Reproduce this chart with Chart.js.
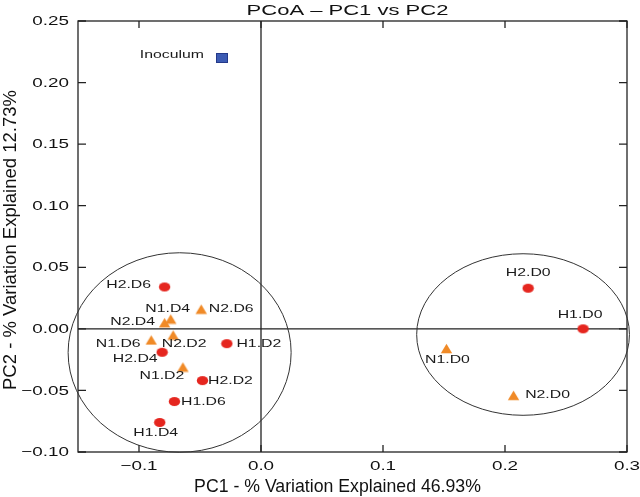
<!DOCTYPE html>
<html>
<head>
<meta charset="utf-8">
<script src="https://cdn.jsdelivr.net/npm/chart.js@4.4.0/dist/chart.umd.min.js"></script>
<style>
  html, body { margin: 0; padding: 0; background: #fff; }
  #wrap { width: 640px; height: 497px; }
</style>
</head>
<body>
<div id="wrap"><canvas id="pcoaChart"></canvas></div>
<script>
// --- data ---
const hLabels = ['H2.D6', 'H2.D4', 'H1.D2', 'H2.D2', 'H1.D6', 'H1.D4', 'H2.D0', 'H1.D0'];
const hPC1 = [-0.079, -0.081, -0.028, -0.048, -0.071, -0.083, 0.219, 0.264];
const hPC2 = [0.034, -0.019, -0.012, -0.042, -0.059, -0.076, 0.033, 0.000];

const nLabels = ['N2.D6', 'N1.D4', 'N2.D4', 'N2.D2', 'N1.D6', 'N1.D2', 'N1.D0', 'N2.D0'];
const nPC1 = [-0.049, -0.074, -0.079, -0.072, -0.090, -0.064, 0.152, 0.207];
const nPC2 = [0.016, 0.008, 0.005, -0.005, -0.009, -0.031, -0.016, -0.054];

const inocLabels = ['Inoculum'];
const inocPC1 = [-0.032];
const inocPC2 = [0.220];

const xTickValues = [-0.1, 0.0, 0.1, 0.2, 0.3];
const xTickLabels = ['\u22120.1', '0.0', '0.1', '0.2', '0.3'];
const yTickValues = [-0.10, -0.05, 0.00, 0.05, 0.10, 0.15, 0.20, 0.25];
const yTickLabels = ['\u22120.10', '\u22120.05', '0.00', '0.05', '0.10', '0.15', '0.20', '0.25'];

// label placement next to each marker (pixels)
const hLabelOffsets = [[-36, -2], [-27, 7], [32, 0], [28, 0], [29, 0], [-4, 10], [0, -15], [-3, -14]];
const nLabelOffsets = [[30, 0], [-3, -10], [-32, -1], [11, 9], [-33, 4], [-21, 9], [1, 11], [34, 0]];
const inocLabelOffsets = [[-50, -3]];

// cluster ellipses, in data units
const leftCluster = { cx: -0.0667, cy: -0.0192, rx: 0.0914, ry: 0.081 };
const rightCluster = { cx: 0.2148, cy: -0.0046, rx: 0.0872, ry: 0.0656 };

const FONT = '"Liberation Sans", Arial, Helvetica, sans-serif';

function makeMarker(w, h, draw) {
  const c = document.createElement('canvas');
  c.width = w;
  c.height = h;
  draw(c.getContext('2d'), w, h);
  return c;
}

const redDot = makeMarker(13, 11, (g) => {
  g.fillStyle = '#e5261f';
  g.beginPath();
  g.ellipse(6.5, 5.5, 5.7, 4.6, 0, 0, Math.PI * 2);
  g.fill();
});
const orangeTri = makeMarker(13, 11, (g) => {
  g.fillStyle = '#f08a27';
  g.beginPath();
  g.moveTo(6.5, 0.8);
  g.lineTo(12.2, 10.3);
  g.lineTo(0.8, 10.3);
  g.closePath();
  g.fill();
});
const blueSquare = makeMarker(12, 10, (g) => {
  g.fillStyle = '#3c5bb3';
  g.fillRect(0.5, 0.5, 11, 9);
  g.strokeStyle = '#24398a';
  g.lineWidth = 1;
  g.strokeRect(0.5, 0.5, 11, 9);
});

function toPoints(xs, ys) {
  return xs.map((x, i) => ({ x: x, y: ys[i] }));
}

// text drawn a little wider than tall, like the figure
function drawText(ctx, txt, x, y, o) {
  ctx.save();
  ctx.translate(x, y);
  if (o.rotate) ctx.rotate(o.rotate);
  ctx.scale(o.sx || 1, 1);
  ctx.font = o.font;
  ctx.fillStyle = o.color || '#111';
  ctx.textAlign = o.align || 'center';
  ctx.textBaseline = o.baseline || 'middle';
  ctx.fillText(txt, 0, 0);
  ctx.restore();
}

const framePlugin = {
  id: 'frame',
  beforeDatasetsDraw(chart) {
    const { ctx, chartArea: a, scales } = chart;
    const xs = scales.x, ys = scales.y;
    ctx.save();
    ctx.strokeStyle = '#222';
    ctx.lineWidth = 1.3;
    ctx.strokeRect(a.left, a.top, a.right - a.left, a.bottom - a.top);

    // zero lines
    ctx.beginPath();
    const x0 = xs.getPixelForValue(0), y0 = ys.getPixelForValue(0);
    ctx.moveTo(x0, a.top); ctx.lineTo(x0, a.bottom);
    ctx.moveTo(a.left, y0); ctx.lineTo(a.right, y0);
    ctx.stroke();

    // inward ticks on all four sides
    ctx.beginPath();
    xs.ticks.forEach(t => {
      const px = xs.getPixelForValue(t.value);
      ctx.moveTo(px, a.bottom); ctx.lineTo(px, a.bottom - 7);
      ctx.moveTo(px, a.top); ctx.lineTo(px, a.top + 7);
    });
    ys.ticks.forEach(t => {
      const py = ys.getPixelForValue(t.value);
      ctx.moveTo(a.left, py); ctx.lineTo(a.left + 8, py);
      ctx.moveTo(a.right, py); ctx.lineTo(a.right - 8, py);
    });
    ctx.stroke();

    // cluster ellipses
    ctx.strokeStyle = '#333';
    ctx.lineWidth = 1;
    [leftCluster, rightCluster].forEach(e => {
      const cx = xs.getPixelForValue(e.cx), cy = ys.getPixelForValue(e.cy);
      const rx = xs.getPixelForValue(e.cx + e.rx) - cx;
      const ry = cy - ys.getPixelForValue(e.cy + e.ry);
      ctx.beginPath();
      ctx.ellipse(cx, cy, rx, ry, 0, 0, Math.PI * 2);
      ctx.stroke();
    });
    ctx.restore();
  },
  afterDatasetsDraw(chart) {
    const { ctx, chartArea: a, scales } = chart;
    const xs = scales.x, ys = scales.y;

    // tick labels
    xs.ticks.forEach((t, i) => {
      drawText(ctx, xTickLabels[i], xs.getPixelForValue(t.value), 466,
        { font: '13px ' + FONT, sx: 1.45 });
    });
    ys.ticks.forEach((t, i) => {
      drawText(ctx, yTickLabels[i], 69, ys.getPixelForValue(t.value) + 0.5,
        { font: '13px ' + FONT, sx: 1.45, align: 'right' });
    });

    // marker labels
    const sets = [[hLabels, hLabelOffsets], [nLabels, nLabelOffsets], [inocLabels, inocLabelOffsets]];
    sets.forEach(([names, offs], di) => {
      const meta = chart.getDatasetMeta(di);
      meta.data.forEach((pt, i) => {
        drawText(ctx, names[i], pt.x + offs[i][0], pt.y + offs[i][1],
          { font: '11.3px ' + FONT, sx: 1.4, color: '#1a1a1a' });
      });
    });

    // titles
    drawText(ctx, 'PCoA \u2013 PC1 vs PC2', 347.5, 15,
      { font: '15.5px ' + FONT, sx: 1.42, baseline: 'alphabetic' });
    drawText(ctx, 'PC1 - % Variation Explained 46.93%', 337.5, 492,
      { font: '17.7px ' + FONT, baseline: 'alphabetic' });
    drawText(ctx, 'PC2 - % Variation Explained 12.73%', 16, 240,
      { font: '18.5px ' + FONT, baseline: 'alphabetic', rotate: -Math.PI / 2 });
  }
};

const ctx = document.getElementById('pcoaChart').getContext('2d');

const pcoaChart = new Chart(ctx, {
  type: 'scatter',
  data: {
    datasets: [
      { label: 'H', data: toPoints(hPC1, hPC2), pointStyle: redDot, pointRadius: 6, pointHoverRadius: 6 },
      { label: 'N', data: toPoints(nPC1, nPC2), pointStyle: orangeTri, pointRadius: 6, pointHoverRadius: 6 },
      { label: 'Inoculum', data: toPoints(inocPC1, inocPC2), pointStyle: blueSquare, pointRadius: 6, pointHoverRadius: 6 }
    ]
  },
  options: {
    responsive: true,
    maintainAspectRatio: false,
    animation: false,
    layout: { padding: { top: 21, right: 13, left: 0, bottom: 0 }, autoPadding: false },
    plugins: {
      legend: { display: false },
      tooltip: { enabled: false }
    },
    scales: {
      x: {
        type: 'linear',
        min: -0.15,
        max: 0.3,
        afterBuildTicks: (s) => { s.ticks = xTickValues.map(v => ({ value: v })); },
        afterFit: (s) => { s.height = 45; },
        ticks: { display: false },
        grid: { display: false },
        border: { display: false }
      },
      y: {
        type: 'linear',
        min: -0.10,
        max: 0.25,
        afterBuildTicks: (s) => { s.ticks = yTickValues.map(v => ({ value: v })); },
        afterFit: (s) => { s.width = 78; },
        ticks: { display: false },
        grid: { display: false },
        border: { display: false }
      }
    }
  },
  plugins: [framePlugin]
});
</script>
</body>
</html>
